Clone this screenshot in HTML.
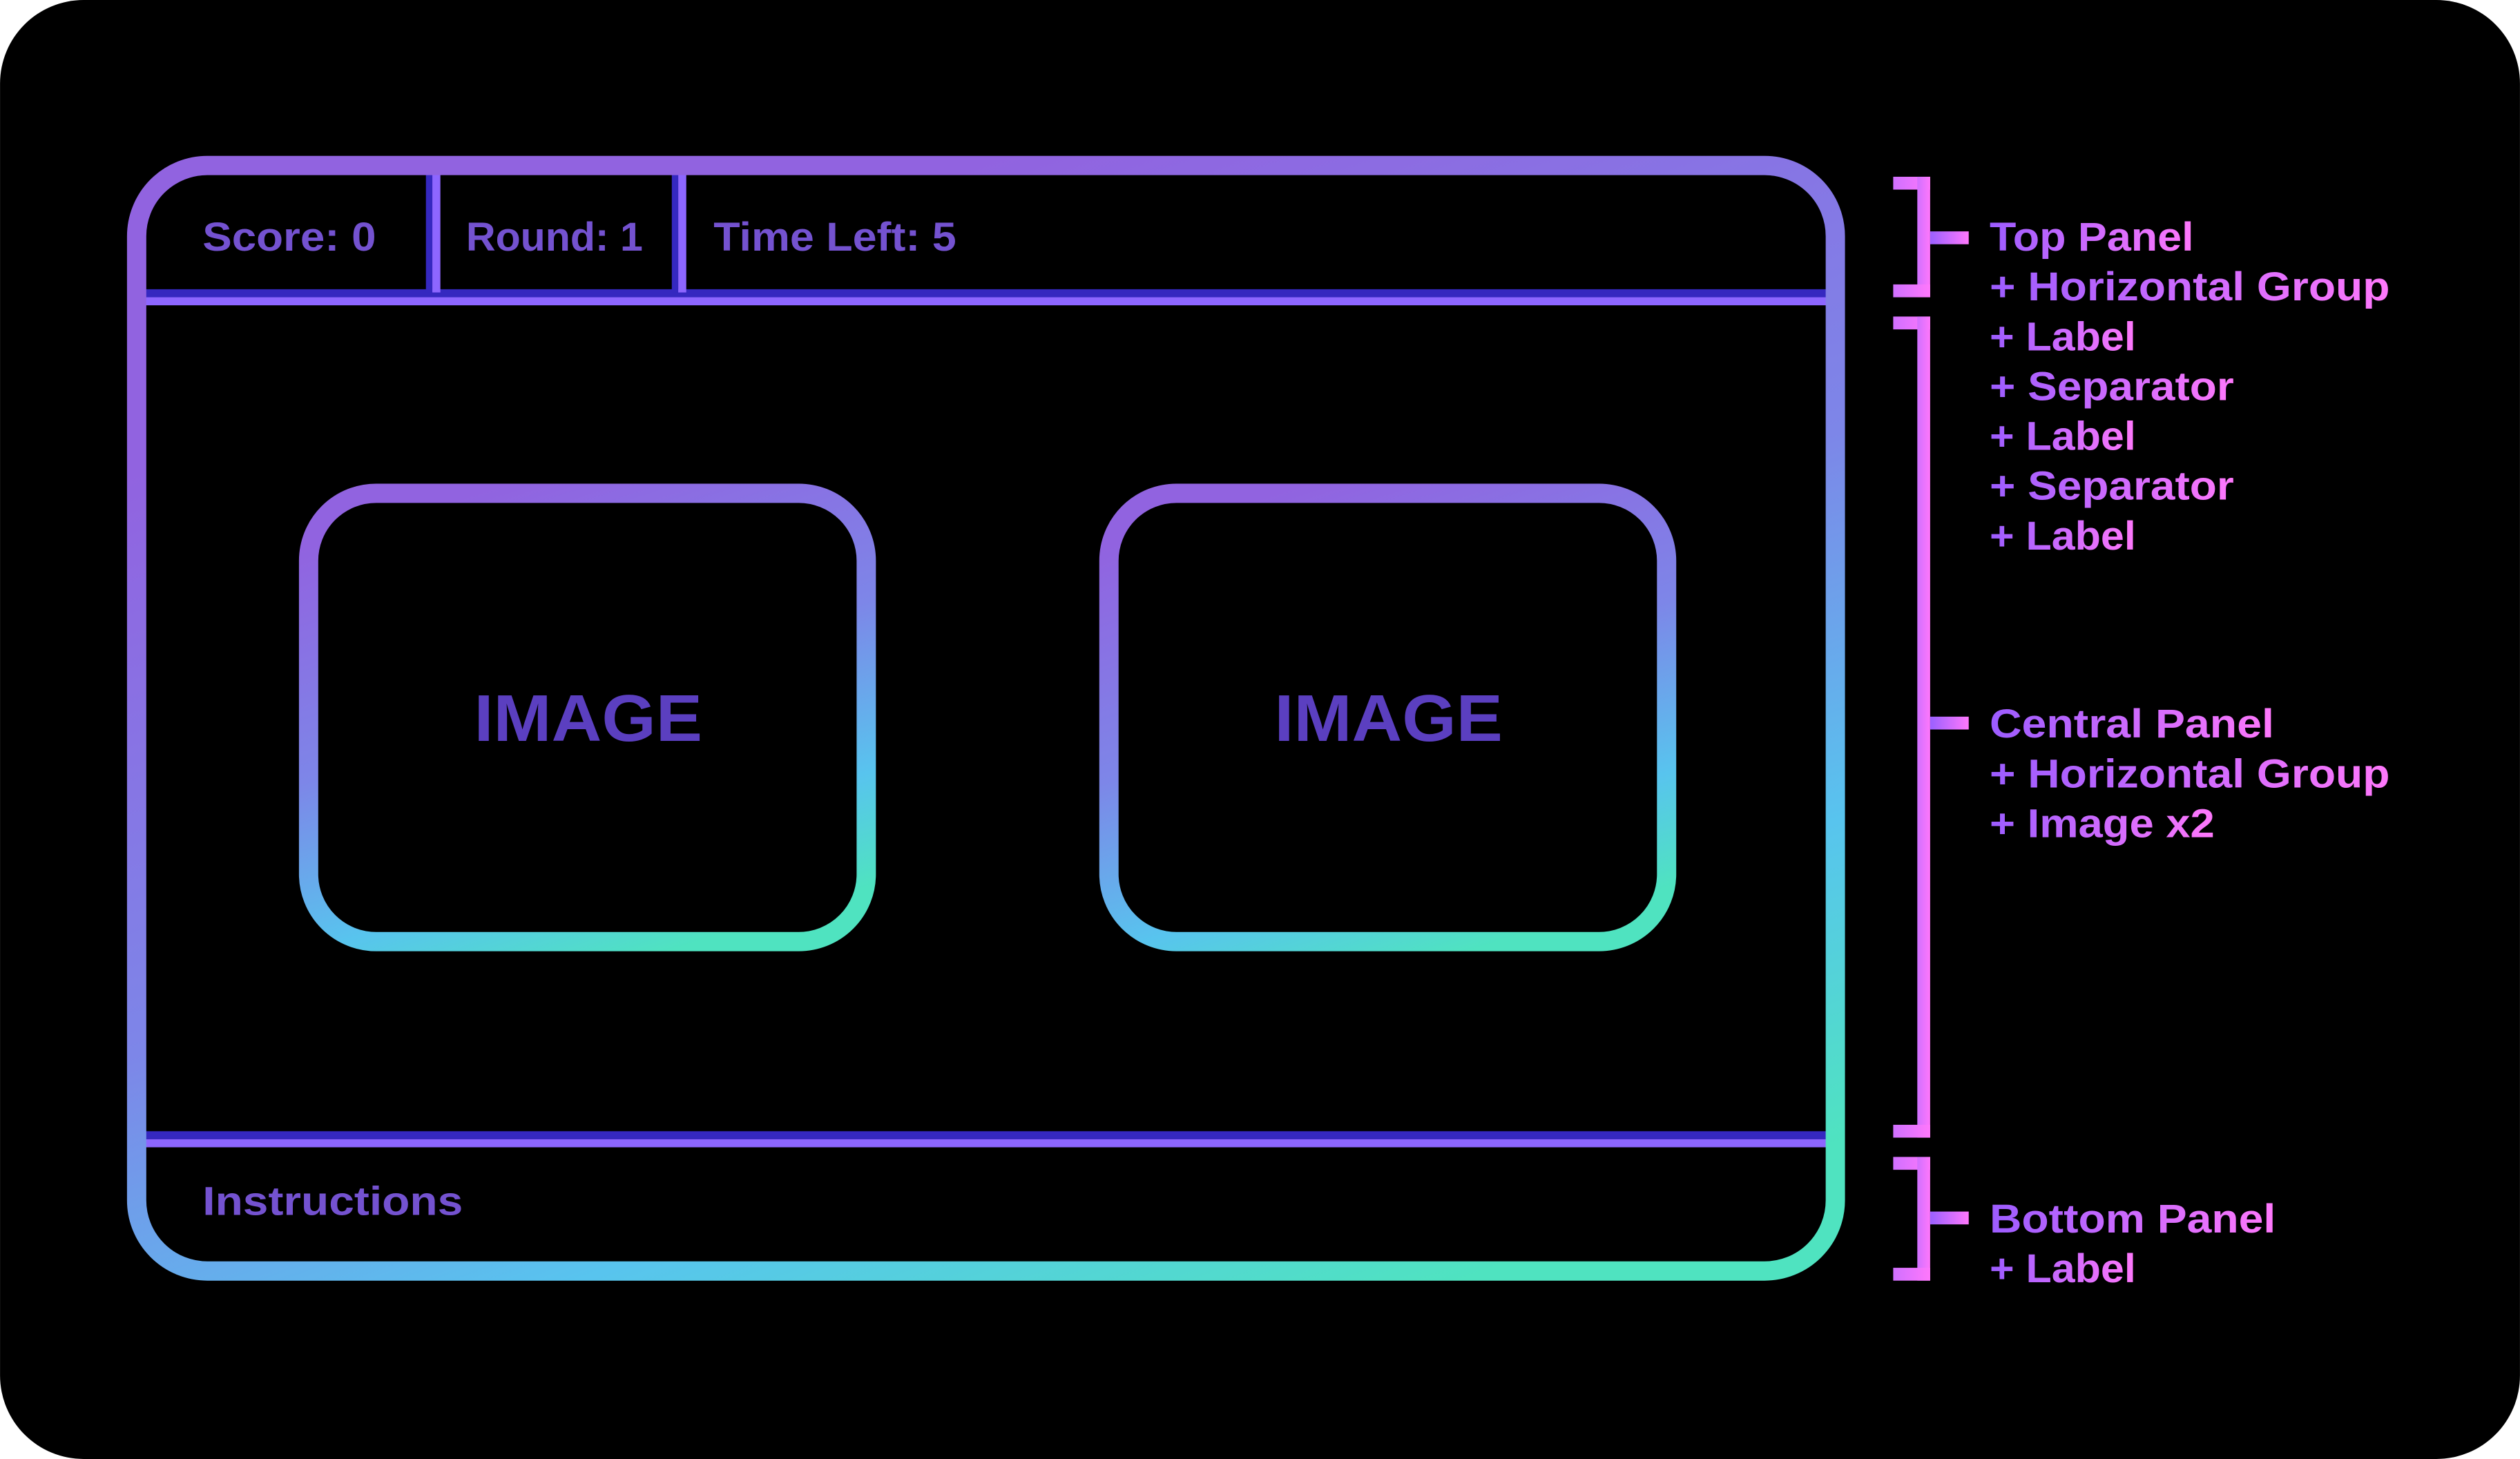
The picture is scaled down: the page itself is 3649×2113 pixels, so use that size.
<!DOCTYPE html>
<html><head><meta charset="utf-8"><style>html,body{margin:0;padding:0;background:#fff}svg{display:block}text{font-family:"Liberation Sans",sans-serif;font-weight:bold}</style></head>
<body>
<svg width="3649" height="2113" viewBox="0 0 1568 908" xmlns="http://www.w3.org/2000/svg">
<defs>
<linearGradient id="fr" gradientUnits="userSpaceOnUse" x1="560" y1="120" x2="820" y2="830">
<stop offset="0" stop-color="#9163e0"/><stop offset="0.45" stop-color="#7d86e8"/><stop offset="0.75" stop-color="#58c4ee"/><stop offset="1" stop-color="#4fe3c0"/></linearGradient>
<linearGradient id="im" x1="0.3" y1="0" x2="0.7" y2="1">
<stop offset="0" stop-color="#9163e0"/><stop offset="0.45" stop-color="#7d86e8"/><stop offset="0.78" stop-color="#58c4ee"/><stop offset="1" stop-color="#4fe3c0"/></linearGradient>
<linearGradient id="tx" x1="0" y1="0" x2="1" y2="0"><stop offset="0" stop-color="#9c5cff"/><stop offset="1" stop-color="#ff78fc"/></linearGradient>
<linearGradient id="st" x1="0" y1="0" x2="1" y2="0"><stop offset="0" stop-color="#9a60ff"/><stop offset="1" stop-color="#ff78fc"/></linearGradient>
<linearGradient id="br" x1="0" y1="0" x2="1" y2="0"><stop offset="0" stop-color="#d070ff"/><stop offset="1" stop-color="#ff78fc"/></linearGradient>
</defs>
<rect x="0" y="0" width="1568" height="908" rx="52" fill="#000"/>
<rect x="88" y="180" width="1050" height="5" fill="#3528c0"/><rect x="88" y="185" width="1050" height="5" fill="#8d66ff"/>
<rect x="88" y="704" width="1050" height="5" fill="#3528c0"/><rect x="88" y="709" width="1050" height="5" fill="#8d66ff"/>
<rect x="265" y="108" width="4" height="74" fill="#3528c0"/><rect x="269" y="108" width="5" height="74" fill="#8d66ff"/>
<rect x="418" y="108" width="4" height="74" fill="#3528c0"/><rect x="422" y="108" width="5" height="74" fill="#8d66ff"/>
<rect x="85" y="103" width="1057" height="688" rx="44" fill="none" stroke="url(#fr)" stroke-width="12"/>
<rect x="192" y="307" width="347" height="279" rx="42" fill="none" stroke="url(#im)" stroke-width="12"/>
<rect x="690" y="307" width="347" height="279" rx="42" fill="none" stroke="url(#im)" stroke-width="12"/>
<g fill="#7452d0" font-size="25">
<text x="126" y="156" textLength="108" lengthAdjust="spacingAndGlyphs">Score: 0</text>
<text x="290" y="156" textLength="110" lengthAdjust="spacingAndGlyphs">Round: 1</text>
<text x="444" y="156" textLength="151" lengthAdjust="spacingAndGlyphs">Time Left: 5</text>
<text x="126" y="756" textLength="162" lengthAdjust="spacingAndGlyphs">Instructions</text>
</g>
<g fill="#5b3fc0" font-size="41">
<text x="295" y="461" textLength="142" lengthAdjust="spacingAndGlyphs">IMAGE</text>
<text x="793" y="461" textLength="142" lengthAdjust="spacingAndGlyphs">IMAGE</text>
</g>
<g fill="url(#br)">
<rect x="1178" y="110" width="23" height="8"/><rect x="1193" y="110" width="8" height="75"/><rect x="1178" y="177" width="23" height="8"/>
<rect x="1178" y="197" width="23" height="8"/><rect x="1193" y="197" width="8" height="511"/><rect x="1178" y="700" width="23" height="8"/>
<rect x="1178" y="720" width="23" height="8"/><rect x="1193" y="720" width="8" height="77"/><rect x="1178" y="789" width="23" height="8"/>
</g>
<g fill="url(#st)">
<rect x="1201" y="144" width="24" height="8"/><rect x="1201" y="446" width="24" height="8"/><rect x="1201" y="754" width="24" height="8"/>
</g>
<g fill="url(#tx)" font-size="25">
<text x="1238" y="156" textLength="127" lengthAdjust="spacingAndGlyphs">Top Panel</text>
<text x="1238" y="187" textLength="249" lengthAdjust="spacingAndGlyphs">+ Horizontal Group</text>
<text x="1238" y="218" textLength="91" lengthAdjust="spacingAndGlyphs">+ Label</text>
<text x="1238" y="249" textLength="152" lengthAdjust="spacingAndGlyphs">+ Separator</text>
<text x="1238" y="280" textLength="91" lengthAdjust="spacingAndGlyphs">+ Label</text>
<text x="1238" y="311" textLength="152" lengthAdjust="spacingAndGlyphs">+ Separator</text>
<text x="1238" y="342" textLength="91" lengthAdjust="spacingAndGlyphs">+ Label</text>
<text x="1238" y="459" textLength="177" lengthAdjust="spacingAndGlyphs">Central Panel</text>
<text x="1238" y="490" textLength="249" lengthAdjust="spacingAndGlyphs">+ Horizontal Group</text>
<text x="1238" y="521" textLength="140" lengthAdjust="spacingAndGlyphs">+ Image x2</text>
<text x="1238" y="767" textLength="178" lengthAdjust="spacingAndGlyphs">Bottom Panel</text>
<text x="1238" y="798" textLength="91" lengthAdjust="spacingAndGlyphs">+ Label</text>
</g>
</svg>
</body></html>
